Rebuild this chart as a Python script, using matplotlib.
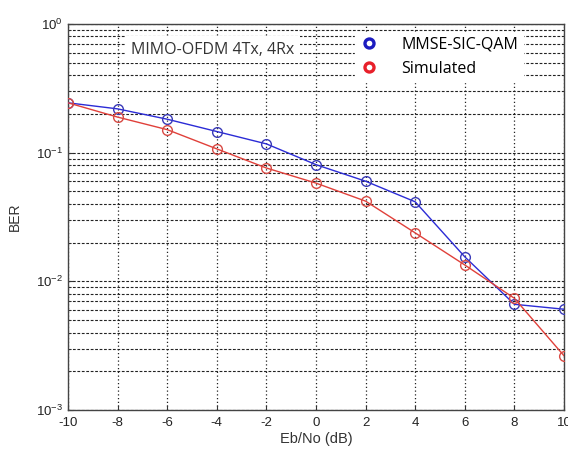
import matplotlib
matplotlib.use("Agg")
import matplotlib.pyplot as plt
from matplotlib.ticker import LogLocator, NullFormatter

# Eb/No sweep and BER curves
ebno_db = [-10, -8, -6, -4, -2, 0, 2, 4, 6, 8, 10]
ber_mmse_sic_qam = [0.244, 0.219, 0.182, 0.146, 0.117, 0.0807, 0.060, 0.0415, 0.0155, 0.00663, 0.00607]
ber_simulated = [0.244, 0.189, 0.151, 0.107, 0.076, 0.058, 0.042, 0.0238, 0.0134, 0.00738, 0.00264]

series_labels = ["MMSE-SIC-QAM", "Simulated"]
x_ticks = [-10, -8, -6, -4, -2, 0, 2, 4, 6, 8, 10]

plt.rcParams["font.family"] = ["Liberation Sans", "DejaVu Sans"]
plt.rcParams["mathtext.fontset"] = "custom"
plt.rcParams["mathtext.rm"] = "Liberation Sans"
plt.rcParams["mathtext.it"] = "Liberation Sans"

fig = plt.figure(figsize=(5.68, 4.50), dpi=100)
ax = fig.add_axes([68 / 568, 40 / 450, 496 / 568, 386 / 450])

blue = "#2b2bd6"
red = "#e0403a"

ax.semilogy(ebno_db, ber_mmse_sic_qam, color=blue, lw=1.0, marker="o", ms=7,
            mfc="none", mec="#3a3ab8", mew=1.0, zorder=3)
ax.semilogy(ebno_db, ber_simulated, color=red, lw=1.0, marker="o", ms=7,
            mfc="none", mec="#d84a44", mew=1.0, zorder=3)

ax.set_xlim(-10, 10)
ax.set_ylim(1e-3, 1e0)
ax.set_xticks(x_ticks)
ax.set_xticklabels([str(t) for t in x_ticks])
ax.yaxis.set_major_locator(LogLocator(base=10, numticks=10))
ax.yaxis.set_minor_locator(LogLocator(base=10, subs=range(2, 10), numticks=20))
ax.yaxis.set_minor_formatter(NullFormatter())

# MATLAB-style grid: dashed horizontals (major + minor), dotted verticals
ax.grid(True, axis="y", which="both", color="#222222", lw=0.8, linestyle=(0, (2.5, 1.5)))
ax.grid(True, axis="x", which="major", color="#222222", lw=0.9, linestyle=(0, (1, 2)))
ax.set_axisbelow(True)

ax.tick_params(axis="both", which="both", direction="in", labelsize=9.5, color="#333333",
               labelcolor="#222222")
ax.tick_params(axis="x", pad=5)
for s in ax.spines.values():
    s.set_color("#444444")
    s.set_linewidth(1.0)

ax.set_xlabel("Eb/No (dB)", fontsize=10.5, labelpad=2, color="#333333")
ax.set_ylabel("BER", fontsize=10, labelpad=10, color="#333333")

# Legend with markers only, white background, no border
h1 = ax.plot([], [], ls="none", marker="o", ms=6.5, mfc="none", mec="#1c1cc0", mew=2.4)[0]
h2 = ax.plot([], [], ls="none", marker="o", ms=6.5, mfc="none", mec="#e8202a", mew=2.4)[0]
leg = ax.legend([h1, h2], series_labels, loc="upper left", bbox_to_anchor=(0.562, 1.0),
                frameon=True, fancybox=False, edgecolor="white", framealpha=1.0,
                prop={"family": ["Open Sans", "DejaVu Sans"], "size": 11.5},
                handletextpad=1.4, borderpad=0.3, labelspacing=0.5, handlelength=1.2)
leg.set_zorder(5)

ax.text(-7.45, 0.63, "MIMO-OFDM 4Tx, 4Rx", fontsize=11.5, color="#333333",
        family=["Open Sans", "DejaVu Sans"], va="center", ha="left", zorder=5,
        bbox=dict(facecolor="white", edgecolor="none", pad=4))

fig.savefig("out.png", dpi=100)
